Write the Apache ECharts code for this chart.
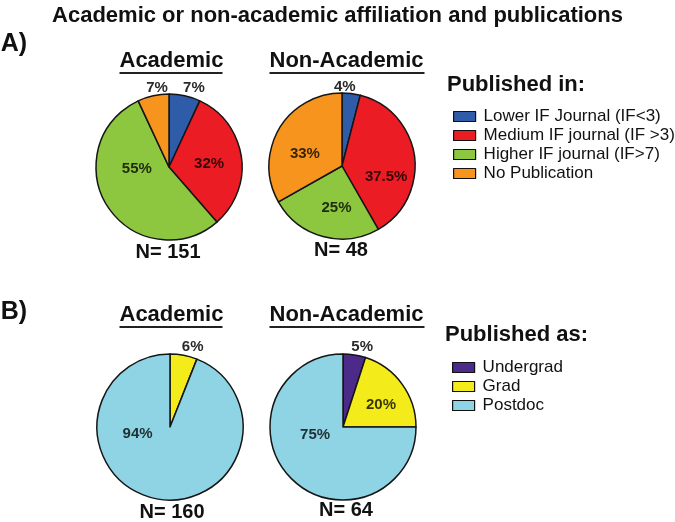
<!DOCTYPE html>
<html><head><meta charset="utf-8">
<script src="https://cdn.jsdelivr.net/npm/echarts@6/dist/echarts.min.js"></script>
<style>html,body{margin:0;padding:0;background:#fff}#c{width:675px;height:522px}</style>
</head><body><div id="c"></div>
<script>
// ---- data ----
const chartTitle = 'Academic or non-academic affiliation and publications';
const groupNames = ['Academic', 'Non-Academic'];
const pubCategories = ['Lower IF Journal (IF<3)', 'Medium IF journal (IF >3)', 'Higher IF journal (IF>7)', 'No Publication'];
const pubAcademic = [7, 32, 55, 7];
const pubNonAcademic = [4, 37.5, 25, 33];
const pubN = [151, 48];
const stageCategories = ['Undergrad', 'Grad', 'Postdoc'];
const stageAcademic = [0, 6, 94];
const stageNonAcademic = [5, 20, 75];
const stageN = [160, 64];

// ---- style ----
const FONT = '"Liberation Sans", Arial, Helvetica, sans-serif';
const pubColors = ['#2F5CA9', '#EC1C24', '#8DC63F', '#F7941D'];
const stageColors = ['#4B2A8A', '#F4EC1A', '#8ED4E4'];
const R = 73;
// label placement tweaks (px) per slice and which slices are labelled outside
const pubAcadOffsets = [[-8, -2], [1, 2], [1, -20], [21, -2]];
const pubNonOffsets = [[-23, -1], [5, 16], [5, 4], [-3, 8]];
const stageAcadOffsets = [[0, 0], [-8, -3], [-25, -32]];
const stageNonOffsets = [[-9, -2], [6, 1], [0, -20]];
const pubAcadOutside = [true, false, false, true];
const pubNonOutside = [true, false, false, false];
const stageAcadOutside = [false, true, false];
const stageNonOutside = [true, false, false];

function buildData(names, values, colors, offsets, outside) {
  const out = [];
  names.forEach((n, i) => {
    if (!values[i]) return;
    out.push({
      name: n, value: values[i],
      itemStyle: { color: colors[i] },
      label: outside[i]
        ? { position: 'outside', color: '#2a2a2a', offset: offsets[i] }
        : { position: 'inside', color: 'rgba(0,0,0,0.78)', offset: offsets[i] },
      labelLine: { show: false }
    });
  });
  return out;
}

function pieSeries(center, data) {
  return {
    type: 'pie', center: center, radius: [0, R], startAngle: 90, clockwise: true,
    avoidLabelOverlap: false, silent: true, animation: false,
    itemStyle: { borderColor: '#151515', borderWidth: 1.5 },
    label: { show: true, formatter: p => p.value + '%', fontFamily: FONT, fontSize: 15, fontWeight: 'bold' },
    labelLine: { show: false, length: 6, length2: 0 },
    emphasis: { disabled: true },
    data: data
  };
}

function headerGraphic(text, cx, cy, width) {
  return [
    { type: 'text', left: cx - width / 2, top: cy - 12, style: { text: text, font: 'bold 22px ' + FONT, fill: '#111' } },
    { type: 'rect', left: cx - width / 2, top: cy + 10, shape: { width: width, height: 2 }, style: { fill: '#222' } }
  ];
}
function centerText(text, cx, cy, size) {
  return { type: 'text', x: cx, y: cy, style: { text: text, font: 'bold ' + size + 'px ' + FONT, fill: '#111', align: 'center', verticalAlign: 'middle' } };
}

const legendBase = {
  orient: 'vertical', itemWidth: 22, itemHeight: 10, itemGap: 2, selectedMode: false,
  icon: 'rect', itemStyle: { borderColor: '#111', borderWidth: 1.2 },
  textStyle: { fontFamily: FONT, fontSize: 17, color: '#111', padding: [0, 0, 0, 3] }
};

const chart = echarts.init(document.getElementById('c'), null, { renderer: 'canvas' });
chart.setOption({
  backgroundColor: '#fff',
  animation: false,
  title: { text: chartTitle, left: 'center', top: 0, textStyle: { fontFamily: FONT, fontSize: 22, fontWeight: 'bold', color: '#111' } },
  legend: [
    Object.assign({}, legendBase, { data: pubCategories, left: 448, top: 103 }),
    Object.assign({}, legendBase, { data: stageCategories, left: 447, top: 354 })
  ],
  graphic: [
    centerText('A)', 14, 44, 25),
    centerText('B)', 14, 312, 25),
    ...headerGraphic(groupNames[0], 171, 62, 103),
    ...headerGraphic(groupNames[1], 347, 62, 155),
    ...headerGraphic(groupNames[0], 171, 316, 103),
    ...headerGraphic(groupNames[1], 347, 316, 155),
    centerText('N= ' + pubN[0], 168, 252, 20),
    centerText('N= ' + pubN[1], 341, 250, 20),
    centerText('N= ' + stageN[0], 172, 512, 20),
    centerText('N= ' + stageN[1], 346, 510, 20),
    { type: 'text', left: 447, top: 74, style: { text: 'Published in:', font: 'bold 22px ' + FONT, fill: '#111' } },
    { type: 'text', left: 445, top: 324, style: { text: 'Published as:', font: 'bold 22px ' + FONT, fill: '#111' } }
  ],
  series: [
    pieSeries([169, 167], buildData(pubCategories, pubAcademic, pubColors, pubAcadOffsets, pubAcadOutside)),
    pieSeries([342, 166], buildData(pubCategories, pubNonAcademic, pubColors, pubNonOffsets, pubNonOutside)),
    pieSeries([170, 427], buildData(stageCategories, stageAcademic, stageColors, stageAcadOffsets, stageAcadOutside)),
    pieSeries([343, 427], buildData(stageCategories, stageNonAcademic, stageColors, stageNonOffsets, stageNonOutside))
  ]
});
</script></body></html>
